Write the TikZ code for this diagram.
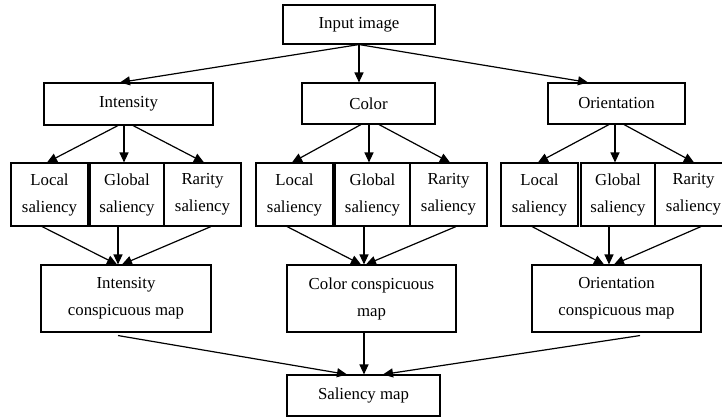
\documentclass[tikz,border=0pt]{standalone}
\usepackage{fontspec}
\setmainfont{Liberation Serif}
\usetikzlibrary{arrows.meta}
\begin{document}
\begin{tikzpicture}[x=1pt,y=-1pt,
  box/.style={draw,line width=1.1pt,inner sep=0pt,align=center,
    font=\fontsize{16.8}{27}\selectfont},
  arr/.style={line width=1.2pt,-{Triangle[length=10pt,width=9pt]}}]
\useasboundingbox (0,0) rectangle (722,419);
% top
\node[box,minimum width=152,minimum height=39] (input) at (359,24.5) {Input image};
\node[box,minimum width=169,minimum height=42] (int) at (128.5,104) {Intensity};
\node[box,minimum width=133,minimum height=41] (col) at (368.5,103.5) {Color};
\node[box,minimum width=137,minimum height=41] (ori) at (616.5,103.5) {Orientation};
% small boxes
\foreach \n/\x/\w/\t in {IL/49.5/77/Local, IG/127/74/Global, IR/202.5/77/Rarity,
  CL/294.5/77/Local, CG/372.5/75/Global, CR/448.5/77/Rarity,
  OL/539.5/77/Local, OG/618/74/Global, OR/693.5/77/Rarity}
  \node[box,minimum width=\w,minimum height=63] (\n) at (\x,194.5) {\t\\saliency};
% maps
\node[box,minimum width=170,minimum height=67] (IM) at (126,298.5) {Intensity\\conspicuous map};
\node[box,minimum width=169,minimum height=67] (CM) at (371.5,298.5) {Color conspicuous\\map};
\node[box,minimum width=169,minimum height=67] (OM) at (616.5,298.5) {Orientation\\conspicuous map};
\node[box,minimum width=153,minimum height=41] (sal) at (363.5,395.5) {Saliency map};
% arrows from input
\draw[arr] (input.south) -- ([xshift=-8.5]int.north);
\draw[arr] (input.south) -- ([xshift=-9.5]col.north);
\draw[arr] (input.south) -- ([xshift=-28.5]ori.north);
% feature to saliency boxes
\draw[arr] ([xshift=-10.5]int.south) -- ([xshift=-2.5]IL.north);
\draw[arr] ([xshift=-4.5]int.south) -- ([xshift=-3]IG.north);
\draw[arr] ([xshift=4.5]int.south) -- ([xshift=1.5]IR.north);
\draw[arr] ([xshift=-7.5]col.south) -- ([xshift=-2.5]CL.north);
\draw[arr] ([xshift=0.5]col.south) -- ([xshift=-3.5]CG.north);
\draw[arr] ([xshift=10.5]col.south) -- ([xshift=1.5]CR.north);
\draw[arr] ([xshift=-7.5]ori.south) -- ([xshift=-1.5]OL.north);
\draw[arr] ([xshift=-1.5]ori.south) -- ([xshift=-3]OG.north);
\draw[arr] ([xshift=7.5]ori.south) -- ([xshift=0.5]OR.north);
% saliency boxes to maps
\draw[arr] ([xshift=-7.5]IL.south) -- ([xshift=-9]IM.north);
\draw[arr] ([xshift=-9]IG.south) -- ([xshift=-8]IM.north);
\draw[arr] ([xshift=8.5]IR.south) -- ([xshift=-4]IM.north);
\draw[arr] ([xshift=-7.5]CL.south) -- ([xshift=-10.5]CM.north);
\draw[arr] ([xshift=-8.5]CG.south) -- ([xshift=-7.5]CM.north);
\draw[arr] ([xshift=7.5]CR.south) -- ([xshift=-5.5]CM.north);
\draw[arr] ([xshift=-7.5]OL.south) -- ([xshift=-12.5]OM.north);
\draw[arr] ([xshift=-9]OG.south) -- ([xshift=-7.5]OM.north);
\draw[arr] ([xshift=7.5]OR.south) -- ([xshift=-2.5]OM.north);
% maps to saliency map
\draw[arr] ([xshift=-8,yshift=-3]IM.south) -- ([xshift=-16.5]sal.north);
\draw[arr] ([xshift=-7.5]CM.south) -- ([xshift=0.5]sal.north);
\draw[arr] ([xshift=23.5,yshift=-3]OM.south) -- ([xshift=19.5]sal.north);
\end{tikzpicture}
\end{document}
